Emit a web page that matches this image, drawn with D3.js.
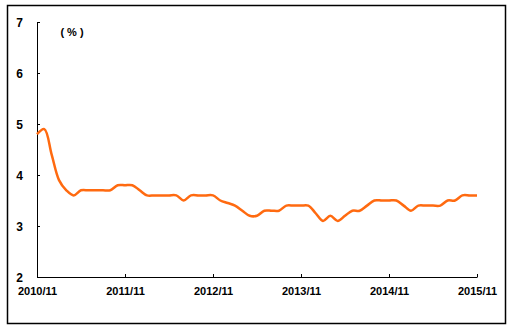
<!DOCTYPE html>
<html>
<head>
<meta charset="utf-8">
<script src="https://cdn.jsdelivr.net/npm/d3@7"></script>
<style>
  html, body { margin: 0; padding: 0; background: #fff; }
  svg text { font-family: "Liberation Sans", Arial, sans-serif; font-weight: bold; fill: #000; }
</style>
</head>
<body>
<div id="chart"></div>
<script>
// Monthly values, 2010/11 .. 2015/11 (61 months)
const values = [
  4.8, 4.9, 4.4, 3.9, 3.7, 3.6, 3.7, 3.7, 3.7, 3.7, 3.7, 3.8,
  3.8, 3.8, 3.7, 3.6, 3.6, 3.6, 3.6, 3.6, 3.5, 3.6, 3.6, 3.6,
  3.6, 3.5, 3.45, 3.4, 3.3, 3.2, 3.2, 3.3, 3.3, 3.3, 3.4, 3.4,
  3.4, 3.4, 3.25, 3.1, 3.2, 3.1, 3.2, 3.3, 3.3, 3.4, 3.5, 3.5,
  3.5, 3.5, 3.4, 3.3, 3.4, 3.4, 3.4, 3.4, 3.5, 3.5, 3.6, 3.6,
  3.6
];
const xTickIndex = [0, 12, 24, 36, 48, 60];
const xTickLabels = ["2010/11", "2011/11", "2012/11", "2013/11", "2014/11", "2015/11"];
const yTicks = [2, 3, 4, 5, 6, 7];
const unitLabel = "( % )";

const W = 514, H = 329;
const margin = { top: 22, right: 37, bottom: 52, left: 37 };

const svg = d3.select("#chart").append("svg")
  .attr("width", W).attr("height", H);

// outer frame
svg.append("rect")
  .attr("x", 7.5).attr("y", 5.5)
  .attr("width", 498).attr("height", 318)
  .attr("fill", "none").attr("stroke", "#000").attr("stroke-width", 1.5);

const x = d3.scaleLinear().domain([0, values.length - 1]).range([margin.left, W - margin.right]);
const y = d3.scaleLinear().domain([2, 7]).range([H - margin.bottom, margin.top]);

// y axis
const yAxis = svg.append("g")
  .attr("transform", `translate(${margin.left},0)`)
  .call(d3.axisRight(y).tickValues(yTicks).tickSize(3).tickSizeOuter(0).tickFormat(d3.format("d")));
yAxis.select(".domain").attr("stroke", "#000");
yAxis.selectAll("text")
  .attr("x", -14).attr("text-anchor", "end")
  .attr("font-size", 12).attr("dy", "0.35em");

// x axis
const xAxis = svg.append("g")
  .attr("transform", `translate(0,${H - margin.bottom})`)
  .call(d3.axisTop(x).tickValues(xTickIndex).tickSize(3).tickSizeOuter(0)
    .tickFormat((d, i) => xTickLabels[i]));
xAxis.select(".domain").attr("stroke", "#000");
xAxis.selectAll("text")
  .attr("y", 18).attr("dy", 0)
  .attr("font-size", 11);

// unit label
svg.append("text")
  .attr("x", 72).attr("y", 36)
  .attr("text-anchor", "middle")
  .attr("font-size", 11)
  .text(unitLabel);

// line
const line = d3.line()
  .x((d, i) => x(i))
  .y(d => y(d))
  .curve(d3.curveCatmullRom.alpha(0.5));

svg.append("path")
  .datum(values)
  .attr("fill", "none")
  .attr("stroke", "#ff6a10")
  .attr("stroke-width", 2.5)
  .attr("stroke-linejoin", "round")
  .attr("d", line);
</script>
</body>
</html>
